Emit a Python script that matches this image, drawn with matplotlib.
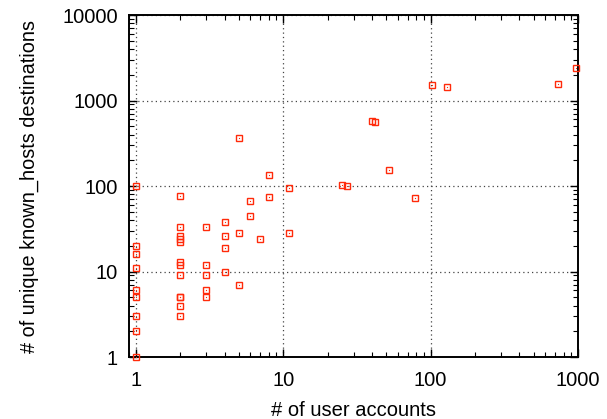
import matplotlib
matplotlib.use("Agg")
import matplotlib.pyplot as plt
from matplotlib.ticker import LogLocator, FixedLocator, NullFormatter

plt.rcParams['font.family'] = ['Liberation Sans', 'DejaVu Sans']

accounts = [1, 1, 1, 1, 1, 1, 1, 1, 1,
            2, 2, 2, 2, 2, 2, 2, 2, 2, 2, 2, 2,
            3, 3, 3, 3, 3,
            4, 4, 4, 4,
            5, 5, 5,
            6, 6,
            7,
            8, 8,
            11, 11,
            25, 27,
            40, 42,
            52, 78,
            103, 129, 734, 972]
destinations = [1, 2, 3, 5, 6, 11, 16, 20, 100,
                76, 33, 26, 24, 22, 13, 12, 9, 5, 5, 4, 3,
                33, 12, 9, 6, 5,
                38, 26, 19, 10,
                362, 28, 7,
                67, 45,
                24,
                134, 75,
                96, 28,
                104, 101,
                575, 565,
                153, 73,
                1500, 1450, 1550, 2380]

xlabel = "# of user accounts"
ylabel = "# of unique known_hosts destinations"
xticks = [1, 10, 100, 1000]
xticklabels = ["1", "10", "100", "1000"]
yticks = [1, 10, 100, 1000, 10000]
yticklabels = ["1", "10", "100", "1000", "10000"]

fig = plt.figure(figsize=(6.07, 4.19), dpi=100)
ax = fig.add_axes([129/607, 62/419, (578-129)/607, (357-15)/419])

ax.set_xscale('log')
ax.set_yscale('log')
ax.set_xlim(0.9, 1000)
ax.set_ylim(1, 10000)

red = '#ff2a0a'
ax.plot(accounts, destinations, linestyle='none', marker='s', markersize=4.6,
        markerfacecolor='none', markeredgecolor=red, markeredgewidth=1.0,
        clip_on=False, zorder=3)
ax.plot(accounts, destinations, linestyle='none', marker='s', markersize=0.8,
        markerfacecolor=red, markeredgecolor='none', clip_on=False, zorder=3)

ax.xaxis.set_major_locator(FixedLocator(xticks))
ax.set_xticklabels(xticklabels)
ax.yaxis.set_major_locator(FixedLocator(yticks))
ax.set_yticklabels(yticklabels)
ax.xaxis.set_minor_locator(LogLocator(base=10, subs=range(2, 10)))
ax.yaxis.set_minor_locator(LogLocator(base=10, subs=range(2, 10)))
ax.xaxis.set_minor_formatter(NullFormatter())
ax.yaxis.set_minor_formatter(NullFormatter())

ax.tick_params(which='both', direction='in', top=True, right=True,
               labelsize=14.5, colors='black')
ax.tick_params(which='major', length=6, width=1.0, pad=8)
ax.tick_params(axis='x', which='major', pad=10)
ax.tick_params(which='minor', length=3.5, width=0.8)

ax.grid(True, which='major', color='#444444', linestyle=(0, (1, 2.5)), linewidth=0.9)

for s in ax.spines.values():
    s.set_linewidth(1.4)
    s.set_color('black')

ax.set_xlabel(xlabel, fontsize=14.5, labelpad=8)
ax.set_ylabel(ylabel, fontsize=14.3, labelpad=17)

fig.savefig('out.png', dpi=100)
